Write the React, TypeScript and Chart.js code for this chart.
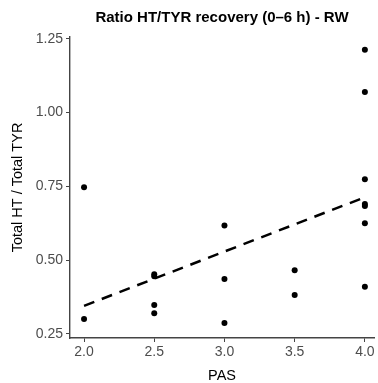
import React, { useEffect, useRef } from "react";
import { Chart, registerables } from "chart.js";

Chart.register(...registerables);

const titleText = "Ratio HT/TYR recovery (0–6 h) - RW";
const xTitle = "PAS";
const yTitle = "Total HT / Total TYR";

const pasValues = [2.0, 2.0, 2.5, 2.5, 2.5, 2.5, 3.0, 3.0, 3.0, 3.5, 3.5, 4.0, 4.0, 4.0, 4.0, 4.0, 4.0, 4.0];
const ratioValues = [0.747, 0.300, 0.452, 0.445, 0.348, 0.320, 0.617, 0.436, 0.287, 0.466, 0.382, 1.213, 1.070, 0.774, 0.690, 0.683, 0.625, 0.410];

const fitX = [2.0, 4.0];
const fitY = [0.345, 0.713];

const xTicks = [2.0, 2.5, 3.0, 3.5, 4.0];
const yTicks = [0.25, 0.5, 0.75, 1.0, 1.25];

const FONT = "'Liberation Sans', Arial, sans-serif";
const AXIS_COLOR = "#444444";
const TEXT_COLOR = "#4d4d4d";

export default function App() {
  const ref = useRef<HTMLCanvasElement | null>(null);

  useEffect(() => {
    document.body.style.margin = "0";
    const canvas = ref.current;
    if (!canvas) return;

    const titlePlugin = {
      id: "customTitle",
      afterDraw(chart: any) {
        const { ctx, chartArea } = chart;
        ctx.save();
        ctx.font = `bold 15px ${FONT}`;
        ctx.fillStyle = "#000";
        ctx.textAlign = "center";
        ctx.textBaseline = "middle";
        ctx.fillText(titleText, (chartArea.left + chartArea.right) / 2, 18);
        ctx.restore();
      },
    };

    const chart = new Chart(canvas, {
      type: "scatter",
      data: {
        datasets: [
          {
            type: "line",
            data: fitX.map((x, i) => ({ x, y: fitY[i] })),
            borderColor: "#000",
            borderWidth: 2.5,
            borderDash: [11, 8],
            pointRadius: 0,
            fill: false,
          } as any,
          {
            type: "scatter",
            data: pasValues.map((x, i) => ({ x, y: ratioValues[i] })),
            backgroundColor: "#000",
            borderColor: "#000",
            borderWidth: 0,
            pointRadius: 3,
          },
        ],
      },
      options: {
        animation: false,
        responsive: false,
        maintainAspectRatio: false,
        layout: { padding: { top: 37, right: 1, left: 0, bottom: 0 } },
        plugins: {
          legend: { display: false },
          title: { display: false },
          tooltip: { enabled: false },
        },
        scales: {
          x: {
            type: "linear",
            min: 1.9,
            max: 4.065,
            afterBuildTicks: (scale: any) => {
              scale.ticks = xTicks.map((v) => ({ value: v }));
            },
            afterFit: (scale: any) => {
              scale.height = 45;
            },
            ticks: {
              color: TEXT_COLOR,
              font: { family: FONT, size: 14 },
              padding: 2,
              maxRotation: 0,
              callback: (v: any) => Number(v).toFixed(1),
            },
            grid: {
              display: true,
              drawOnChartArea: false,
              drawTicks: true,
              tickLength: 4,
              color: AXIS_COLOR,
              lineWidth: 1,
            },
            border: { display: true, color: AXIS_COLOR, width: 1.4 },
            title: {
              display: true,
              text: xTitle,
              color: "#000",
              font: { family: FONT, size: 14.5, lineHeight: 1 },
              padding: { top: 0, bottom: 0 },
            },
          },
          y: {
            type: "linear",
            min: 0.236,
            max: 1.256,
            afterBuildTicks: (scale: any) => {
              scale.ticks = yTicks.map((v) => ({ value: v }));
            },
            afterFit: (scale: any) => {
              scale.width = 70;
            },
            ticks: {
              color: TEXT_COLOR,
              font: { family: FONT, size: 14 },
              padding: 3,
              callback: (v: any) => Number(v).toFixed(2),
            },
            grid: {
              display: true,
              drawOnChartArea: false,
              drawTicks: true,
              tickLength: 4,
              color: AXIS_COLOR,
              lineWidth: 1,
            },
            border: { display: true, color: AXIS_COLOR, width: 1.4 },
            title: {
              display: true,
              text: yTitle,
              color: "#000",
              font: { family: FONT, size: 14.5, lineHeight: 1 },
              padding: { top: 11, bottom: 0 },
            },
          },
        },
      },
      plugins: [titlePlugin],
    });

    return () => chart.destroy();
  }, []);

  return (
    <div style={{ width: 378, height: 383 }}>
      <canvas ref={ref} width={378} height={383} style={{ display: "block", width: 378, height: 383 }} />
    </div>
  );
}
